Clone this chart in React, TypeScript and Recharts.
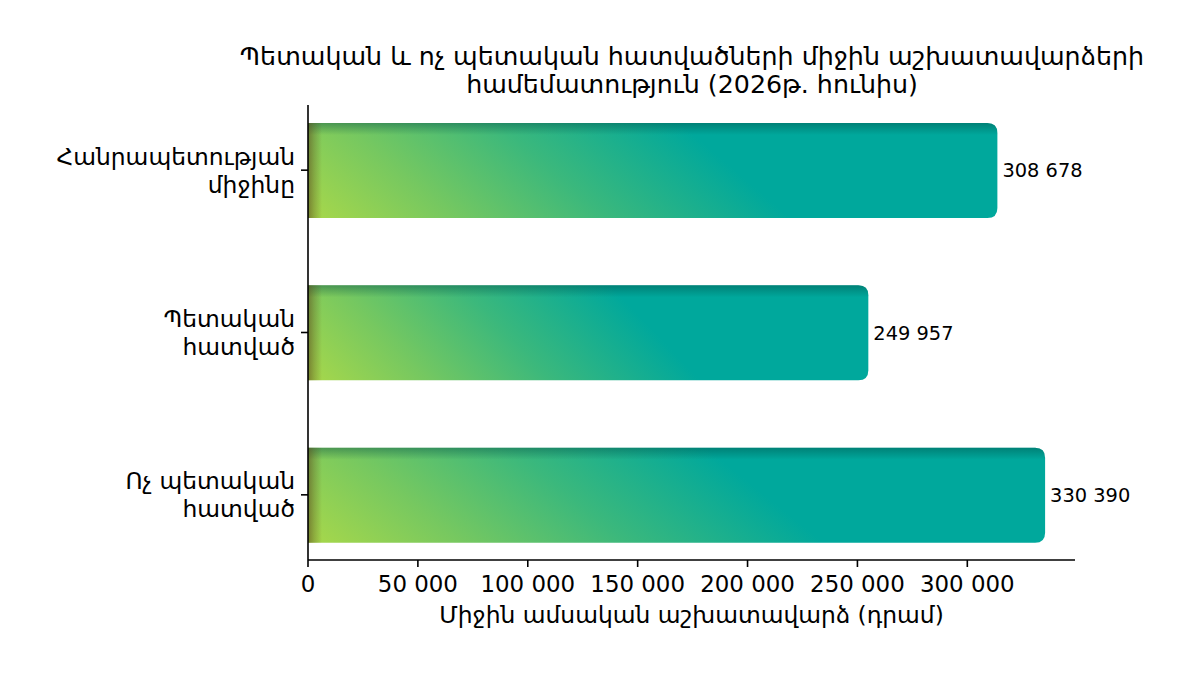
import React from "react";
import { BarChart, Bar, XAxis, YAxis, LabelList } from "recharts";

const categories = ["Հանրապետության\nմիջինը", "Պետական\nհատված", "Ոչ պետական\nհատված"];
const salaries = [308678, 249957, 330390];
const xTicks = [0, 50000, 100000, 150000, 200000, 250000, 300000];
const titleLines = [
  "Պետական և ոչ պետական հատվածների միջին աշխատավարձերի",
  "համեմատություն (2026թ. հունիս)",
];
const xLabel = "Միջին ամսական աշխատավարձ (դրամ)";

const data = categories.map((c, i) => ({ name: c, value: salaries[i] }));

const FONT = "'DejaVu Sans', sans-serif";
const fmt = (n: number) => String(n).replace(/\B(?=(\d{3})+(?!\d))/g, " ");
const PAD = 11;

const GradientBar = (props: any) => {
  const { x, y, width, height, index } = props;
  if (width == null || height == null) return null;
  const w = width + PAD;
  const r = 10;
  const d = `M${x},${y} H${x + w - r} Q${x + w},${y} ${x + w},${y + r} V${y + height - r} Q${x + w},${y + height} ${x + w - r},${y + height} H${x} Z`;
  const gid = `main-${index}`;
  const lid = `left-${index}`;
  const tid = `top-${index}`;
  return (
    <g>
      <defs>
        <linearGradient id={gid} x1="0" y1="1" x2="0.6825" y2="0.8908">
          <stop offset="0" stopColor="#a8d84a" />
          <stop offset="0.3" stopColor="#76c860" />
          <stop offset="0.62" stopColor="#3bb87c" />
          <stop offset="1" stopColor="#00a89c" />
        </linearGradient>
        <linearGradient id={lid} gradientUnits="userSpaceOnUse" x1={x} y1={0} x2={x + 14} y2={0}>
          <stop offset="0" stopColor="#5a4a1e" stopOpacity={0.6} />
          <stop offset="0.45" stopColor="#5a4a1e" stopOpacity={0.3} />
          <stop offset="1" stopColor="#5a4a1e" stopOpacity={0} />
        </linearGradient>
        <linearGradient id={tid} gradientUnits="userSpaceOnUse" x1={0} y1={y} x2={0} y2={y + 12}>
          <stop offset="0" stopColor="#00463e" stopOpacity={0.4} />
          <stop offset="1" stopColor="#00463e" stopOpacity={0} />
        </linearGradient>
      </defs>
      <path d={d} fill={`url(#${gid})`} />
      <path d={d} fill={`url(#${tid})`} />
      <path d={d} fill={`url(#${lid})`} />
    </g>
  );
};

const YTick = (props: any) => {
  const { x, y, payload } = props;
  const lines = String(payload.value).split("\n");
  const lh = 28;
  const start = -((lines.length - 1) * lh) / 2;
  return (
    <text x={x - 4} y={y} textAnchor="end" fontFamily={FONT} fontSize={23.4} fill="#000">
      {lines.map((l, i) => (
        <tspan key={i} x={x - 4} y={y + start + i * lh} dy="0.36em">
          {l}
        </tspan>
      ))}
    </text>
  );
};

const ValueLabel = (props: any) => {
  const { x, y, width, height, value } = props;
  return (
    <text
      x={x + width + PAD + 5}
      y={y + height / 2}
      dy="0.36em"
      fontFamily={FONT}
      fontSize={19.4}
      fill="#000"
    >
      {fmt(value)}
    </text>
  );
};

export default function App() {
  return (
    <div style={{ position: "relative", width: 1200, height: 675, background: "#fff", fontFamily: FONT }}>
      <style>{`body{margin:0;}`}</style>
      <div
        style={{
          position: "absolute",
          left: 142,
          width: 1100,
          top: 43,
          textAlign: "center",
          fontSize: 25.3,
          lineHeight: "28px",
          color: "#000",
          whiteSpace: "nowrap",
        }}
      >
        {titleLines.map((t, i) => (
          <div key={i}>{t}</div>
        ))}
      </div>
      <BarChart
        width={1200}
        height={675}
        data={data}
        layout="vertical"
        margin={{ top: 105, right: 125, bottom: 0, left: 0 }}
      >
        <XAxis
          type="number"
          dataKey="value"
          domain={[0, 349000]}
          ticks={xTicks}
          tickFormatter={fmt}
          allowDataOverflow
          height={115}
          tickSize={7}
          tickMargin={9}
          axisLine={{ stroke: "#000", strokeWidth: 1.6 }}
          tickLine={{ stroke: "#000", strokeWidth: 1.6 }}
          tick={{ fill: "#000", fontSize: 22.9, fontFamily: FONT }}
        />
        <YAxis
          type="category"
          dataKey="name"
          width={308}
          padding={{ top: -16, bottom: -16 }}
          tickSize={7}
          axisLine={{ stroke: "#000", strokeWidth: 1.6 }}
          tickLine={{ stroke: "#000", strokeWidth: 1.6 }}
          tick={<YTick />}
          interval={0}
        />
        <Bar dataKey="value" barSize={95} shape={<GradientBar />} isAnimationActive={false}>
          <LabelList dataKey="value" content={<ValueLabel />} />
        </Bar>
      </BarChart>
      <div
        style={{
          position: "absolute",
          left: 308,
          width: 767,
          top: 601,
          textAlign: "center",
          fontSize: 23.4,
          lineHeight: "28px",
          color: "#000",
        }}
      >
        {xLabel}
      </div>
    </div>
  );
}
